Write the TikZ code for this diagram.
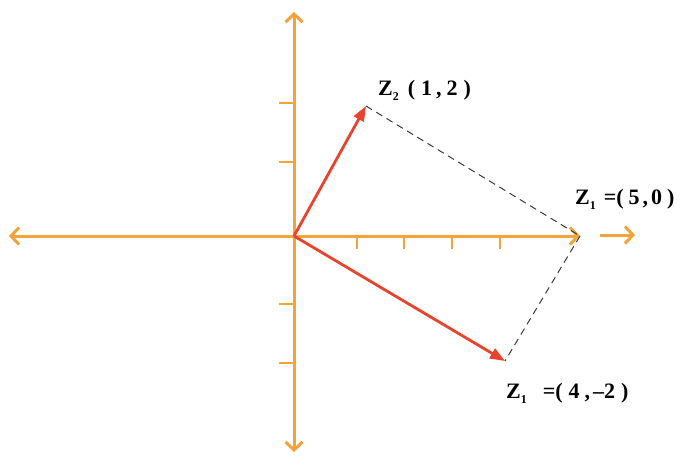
\documentclass[tikz,border=0pt]{standalone}
\usepackage{fontspec}
\setmainfont{Liberation Serif}
\usetikzlibrary{arrows.meta}
\definecolor{axisor}{HTML}{F2A33A}
\definecolor{vecred}{HTML}{E8432E}
\definecolor{dashgray}{HTML}{3A3A3A}
\tikzset{
  axisline/.style={draw=axisor,line width=3pt},
  axisarrows/.style={axisline,{Straight Barb[length=8pt,width=17pt]}-{Straight Barb[length=8pt,width=17pt]}},
  axisarrow/.style={axisline,-{Straight Barb[length=8pt,width=17pt]}},
  tickline/.style={draw=axisor,line width=2.5pt},
  vec/.style={draw=vecred,line width=2.8pt,-{Triangle[length=15pt,width=11pt]}},
  dashline/.style={draw=dashgray,line width=1pt,dash pattern=on 7pt off 5pt},
  lbl/.style={anchor=west,inner sep=0pt,font=\bfseries\fontsize{22}{24}\selectfont}
}
\newcommand{\mysub}[1]{\raisebox{-5pt}{\fontsize{12}{13}\selectfont #1}}
\newcommand{\gap}[1]{\hspace{#1pt}}
\begin{document}
\begin{tikzpicture}[x=1pt,y=-1pt]
\useasboundingbox[fill=white] (0,0) rectangle (684,460);
% key coordinates
\coordinate (O) at (294,236);
\coordinate (xl) at (9,236);
\coordinate (xr) at (580,236);
\coordinate (yt) at (294,12);
\coordinate (yb) at (294,452);
\coordinate (ea) at (600,235);
\coordinate (eb) at (635,235);
\coordinate (Zb) at (366,106);
\coordinate (Za) at (505,361);
% axes
\draw[axisarrows] (xl) -- (xr);
\draw[axisarrows] (yb) -- (yt);
\draw[axisarrow] (ea) -- (eb);
% ticks
\foreach \t [count=\i] in {357,404,452,500}{
  \coordinate (xt\i) at (\t,236);
  \coordinate (xtb\i) at (\t,249);
  \draw[tickline] (xt\i) -- (xtb\i);
}
\foreach \t [count=\i] in {103,162,304,363}{
  \coordinate (yt\i) at (294,\t);
  \coordinate (ytb\i) at (279,\t);
  \draw[tickline] (yt\i) -- (ytb\i);
}
% dashed lines
\draw[dashline] (Zb) -- (xr);
\draw[dashline] (xr) -- (Za);
% vectors
\draw[vec] (O) -- (Zb);
\draw[vec] (O) -- (Za);
% labels
\node[lbl] (l2) at (378,90) {Z\mysub{2}\gap{9}(\gap{6}1\gap{4},\gap{5}2\gap{6})};
\node[lbl] (l3) at (575,199) {Z\mysub{1}\gap{8}=(\gap{5}5\gap{3},\gap{3}0\gap{5})};
\node[lbl] (l1) at (506,393) {Z\mysub{1}\gap{16}=(\gap{6}4\gap{5},\gap{3}\textendash2\gap{6})};
\end{tikzpicture}
\end{document}
